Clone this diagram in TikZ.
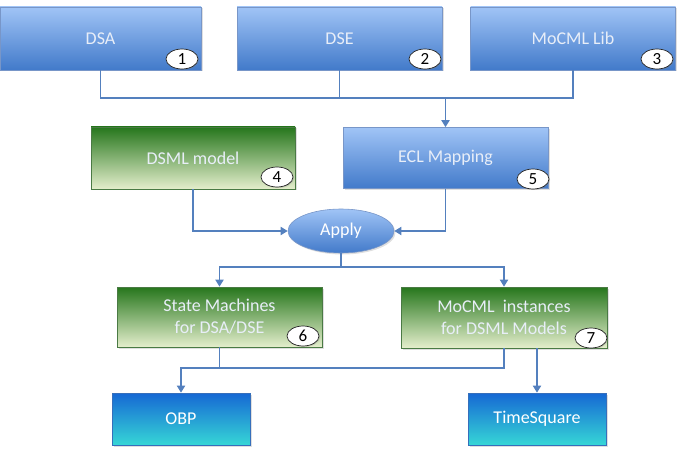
\documentclass[tikz,border=0pt]{standalone}
\usepackage{fontspec}
\setmainfont{Carlito}
\usetikzlibrary{arrows.meta,shapes.geometric,shadows}
\definecolor{bluetop}{RGB}{160,196,246}
\definecolor{bluebot}{RGB}{66,122,202}
\definecolor{greentop}{RGB}{38,118,28}
\definecolor{greenbot}{RGB}{228,238,204}
\definecolor{cyantop}{RGB}{22,104,212}
\definecolor{cyanbot}{RGB}{54,214,214}
\definecolor{edgeblue}{RGB}{120,150,200}
\definecolor{conncol}{RGB}{84,128,190}
\definecolor{txtlight}{RGB}{232,238,248}
\tikzset{
  box/.style={rectangle, draw=edgeblue, line width=0.6pt, inner sep=2pt, align=center,
    font=\fontsize{18}{22}\selectfont, drop shadow={opacity=0.25, shadow xshift=1.5pt, shadow yshift=-1.5pt}},
  bluebox/.style={box, top color=bluetop, bottom color=bluebot, text=txtlight},
  greenbox/.style={box, top color=greentop, bottom color=greenbot, draw=greentop!60!gray, text=txtlight},
  cyanbox/.style={box, top color=cyantop, bottom color=cyanbot, draw=cyantop!70!gray, text=white},
  badge/.style={ellipse, draw=black!85, fill=white, line width=0.7pt, inner sep=0pt,
    minimum width=32pt, minimum height=20pt, font=\fontsize{17}{17}\selectfont,
    drop shadow={opacity=0.3, shadow xshift=1pt, shadow yshift=-1pt}},
  conn/.style={draw=conncol, line width=1.8pt},
  arr/.style={conn, -{Triangle[length=7pt,width=8pt]}},
}
\begin{document}
\begin{tikzpicture}[x=1pt,y=-1pt]
\useasboundingbox (0,0) rectangle (684,454);
% top row
\node[bluebox, minimum width=201pt, minimum height=63pt] (dsa) at (100.5,38.5) {DSA};
\node[bluebox, minimum width=205pt, minimum height=63pt] (dse) at (339.5,38.5) {DSE};
\node[bluebox, minimum width=205pt, minimum height=63pt] (lib) at (573,38.5) {MoCML Lib};
\node[badge] (b1) at (182,59) {1};
\node[badge] (b2) at (425,59) {2};
\node[badge] (b3) at (657,59) {3};
% second row
\node[greenbox, minimum width=204pt, minimum height=62pt] (dsml) at (193,158) {DSML model};
\node[bluebox, minimum width=205pt, minimum height=61pt] (ecl) at (445.5,158) {ECL Mapping};
\node[badge] (b4) at (277,177) {4};
\node[badge] (b5) at (533,179) {5};
% apply
\node[ellipse, draw=edgeblue, line width=0.6pt, top color=bluetop, bottom color=bluebot,
  minimum width=106pt, minimum height=44pt, inner sep=0pt, text=white,
  font=\fontsize{18}{22}\selectfont,
  drop shadow={opacity=0.25, shadow xshift=1.5pt, shadow yshift=-1.5pt}] (apply) at (341,231) {Apply};
% third row
\node[greenbox, minimum width=205pt, minimum height=60pt] (sm) at (219.5,317) {State Machines\\for DSA/DSE};
\node[greenbox, minimum width=206pt, minimum height=61pt] (mi) at (504,317.5) {MoCML\ \ instances\\for DSML Models};
\node[badge] (b6) at (303,336) {6};
\node[badge] (b7) at (591,338) {7};
% bottom row
\node[cyanbox, minimum width=138pt, minimum height=52pt] (obp) at (181,419) {OBP};
\node[cyanbox, minimum width=138pt, minimum height=52pt] (ts) at (537,419) {TimeSquare};
% bus coordinates
\coordinate (bus1) at (0,98);
\coordinate (bus2) at (0,267);
\coordinate (bus3) at (0,368);
% connectors top
\draw[conn] (dsa.south) -- (dsa.south |- bus1) -| (lib.south);
\draw[conn] (dse.south) -- (dse.south |- bus1);
\draw[arr] (ecl.north |- bus1) -- (ecl.north);
% to apply
\draw[arr] (dsml.south) |- (apply.west);
\draw[arr] (ecl.south) |- (apply.east);
% from apply
\draw[conn] (apply.south) -- (apply.south |- bus2);
\draw[arr] (apply.south |- bus2) -| (sm.north);
\draw[arr] (apply.south |- bus2) -| (mi.north);
% bottom
\draw[conn] (sm.south) -- (sm.south |- bus3);
\draw[arr] (mi.south) |- (obp.north |- bus3) -- (obp.north);
\draw[arr] (mi.south -| ts.north) -- (ts.north);
\end{tikzpicture}
\end{document}
